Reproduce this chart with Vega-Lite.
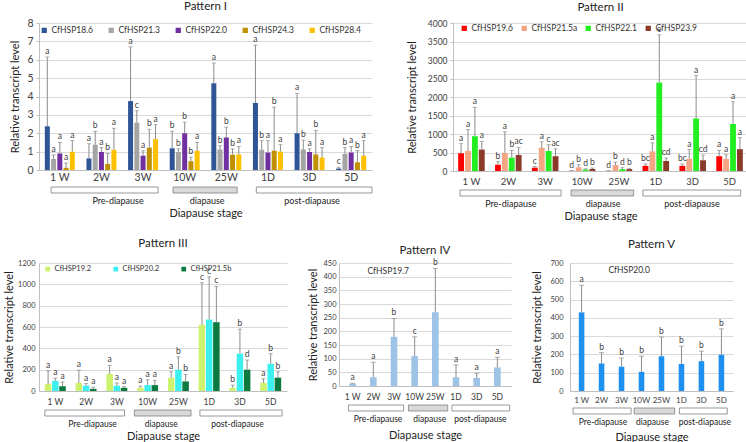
{
  "$schema": "https://vega.github.io/schema/vega-lite/v6.json",
  "padding": {"left": 3, "top": 0, "right": 0, "bottom": 0},
  "config": {
    "font": "Lato",
    "view": {"stroke": null},
    "axis": {"labelColor": "#404040", "titleColor": "#222222", "gridColor": "#d9d9d9", "domainColor": "#bfbfbf", "tickColor": "#bfbfbf", "labelFont": "Lato", "titleFont": "Lato", "titleFontWeight": "normal"},
    "axisY": {"labelOverlap": false},
    "legend": {"labelFont": "Lato", "labelColor": "#333333"},
    "title": {"font": "Lato", "fontWeight": "normal", "color": "#222222"}
  },
  "align": "none",
  "resolve": {"scale": {"color": "independent", "xOffset": "independent", "x": "independent", "y": "independent"}, "legend": {"color": "independent"}},
  "datasets": {
    "p1": [
      {"stage": "1 W", "gene": "CfHSP18.6", "value": 2.38, "upper": 6.15, "letter": "a"},
      {"stage": "1 W", "gene": "CfHSP21.3", "value": 0.6, "upper": 0.82, "letter": "a"},
      {"stage": "1 W", "gene": "CfHSP22.0", "value": 0.9, "upper": 1.5, "letter": "a"},
      {"stage": "1 W", "gene": "CfHSP24.3", "value": 0.12, "upper": 0.38, "letter": "a"},
      {"stage": "1 W", "gene": "CfHSP28.4", "value": 1.0, "upper": 1.6, "letter": "a"},
      {"stage": "2W", "gene": "CfHSP18.6", "value": 0.63, "upper": 1.43, "letter": "a"},
      {"stage": "2W", "gene": "CfHSP21.3", "value": 1.38, "upper": 2.1, "letter": "b"},
      {"stage": "2W", "gene": "CfHSP22.0", "value": 0.98, "upper": 1.22, "letter": "a"},
      {"stage": "2W", "gene": "CfHSP24.3", "value": 0.33, "upper": 0.9, "letter": "b"},
      {"stage": "2W", "gene": "CfHSP28.4", "value": 1.1, "upper": 2.27, "letter": "a"},
      {"stage": "3W", "gene": "CfHSP18.6", "value": 3.75, "upper": 6.7, "letter": "a"},
      {"stage": "3W", "gene": "CfHSP21.3", "value": 2.58, "upper": 3.23, "letter": "c"},
      {"stage": "3W", "gene": "CfHSP22.0", "value": 0.78, "upper": 1.05, "letter": "a"},
      {"stage": "3W", "gene": "CfHSP24.3", "value": 1.22, "upper": 2.22, "letter": "b"},
      {"stage": "3W", "gene": "CfHSP28.4", "value": 1.68, "upper": 2.47, "letter": "a"},
      {"stage": "10W", "gene": "CfHSP18.6", "value": 1.18, "upper": 2.1, "letter": "b"},
      {"stage": "10W", "gene": "CfHSP21.3", "value": 0.98, "upper": 1.15, "letter": "b"},
      {"stage": "10W", "gene": "CfHSP22.0", "value": 2.0, "upper": 2.6, "letter": "b"},
      {"stage": "10W", "gene": "CfHSP24.3", "value": 0.48, "upper": 0.7, "letter": "b"},
      {"stage": "10W", "gene": "CfHSP28.4", "value": 1.05, "upper": 1.5, "letter": "a"},
      {"stage": "25W", "gene": "CfHSP18.6", "value": 4.72, "upper": 5.82, "letter": "a"},
      {"stage": "25W", "gene": "CfHSP21.3", "value": 1.12, "upper": 1.32, "letter": "b"},
      {"stage": "25W", "gene": "CfHSP22.0", "value": 1.77, "upper": 2.33, "letter": "b"},
      {"stage": "25W", "gene": "CfHSP24.3", "value": 0.83, "upper": 1.15, "letter": "b"},
      {"stage": "25W", "gene": "CfHSP28.4", "value": 0.85, "upper": 1.28, "letter": "a"},
      {"stage": "1D", "gene": "CfHSP18.6", "value": 3.65, "upper": 6.8, "letter": "a"},
      {"stage": "1D", "gene": "CfHSP21.3", "value": 1.1, "upper": 1.6, "letter": "b"},
      {"stage": "1D", "gene": "CfHSP22.0", "value": 0.95, "upper": 1.6, "letter": "a"},
      {"stage": "1D", "gene": "CfHSP24.3", "value": 1.05, "upper": 3.42, "letter": "b"},
      {"stage": "1D", "gene": "CfHSP28.4", "value": 1.0, "upper": 1.38, "letter": "a"},
      {"stage": "3D", "gene": "CfHSP18.6", "value": 2.0, "upper": 4.17, "letter": "a"},
      {"stage": "3D", "gene": "CfHSP21.3", "value": 1.12, "upper": 1.62, "letter": "b"},
      {"stage": "3D", "gene": "CfHSP22.0", "value": 0.98, "upper": 1.15, "letter": "a"},
      {"stage": "3D", "gene": "CfHSP24.3", "value": 0.85, "upper": 2.15, "letter": "b"},
      {"stage": "3D", "gene": "CfHSP28.4", "value": 0.68, "upper": 1.22, "letter": "a"},
      {"stage": "5D", "gene": "CfHSP18.6", "value": 0.08, "upper": 0.15, "letter": "c"},
      {"stage": "5D", "gene": "CfHSP21.3", "value": 0.88, "upper": 1.22, "letter": "b"},
      {"stage": "5D", "gene": "CfHSP22.0", "value": 0.95, "upper": 1.28, "letter": "a"},
      {"stage": "5D", "gene": "CfHSP24.3", "value": 0.42, "upper": 1.05, "letter": "b"},
      {"stage": "5D", "gene": "CfHSP28.4", "value": 0.78, "upper": 1.6, "letter": "a"}
    ],
    "p2": [
      {"stage": "1 W", "gene": "CfHSP19.6", "value": 480, "upper": 740, "letter": "a"},
      {"stage": "1 W", "gene": "CfHSP21.5a", "value": 540, "upper": 1120, "letter": "a"},
      {"stage": "1 W", "gene": "CfHSP22.1", "value": 940, "upper": 1720, "letter": "a"},
      {"stage": "1 W", "gene": "CfHSP23.9", "value": 580, "upper": 800, "letter": "a"},
      {"stage": "2W", "gene": "CfHSP19.6", "value": 170, "upper": 250, "letter": "b"},
      {"stage": "2W", "gene": "CfHSP21.5a", "value": 490, "upper": 1060, "letter": "a"},
      {"stage": "2W", "gene": "CfHSP22.1", "value": 360, "upper": 560, "letter": "b"},
      {"stage": "2W", "gene": "CfHSP23.9", "value": 430, "upper": 640, "letter": "ac"},
      {"stage": "3W", "gene": "CfHSP19.6", "value": 90, "upper": 120, "letter": "c"},
      {"stage": "3W", "gene": "CfHSP21.5a", "value": 630, "upper": 790, "letter": "a"},
      {"stage": "3W", "gene": "CfHSP22.1", "value": 540, "upper": 710, "letter": "c"},
      {"stage": "3W", "gene": "CfHSP23.9", "value": 400, "upper": 600, "letter": "ac"},
      {"stage": "10W", "gene": "CfHSP19.6", "value": 5, "upper": 10, "letter": "d"},
      {"stage": "10W", "gene": "CfHSP21.5a", "value": 100, "upper": 170, "letter": "b"},
      {"stage": "10W", "gene": "CfHSP22.1", "value": 40, "upper": 60, "letter": "d"},
      {"stage": "10W", "gene": "CfHSP23.9", "value": 55, "upper": 80, "letter": "b"},
      {"stage": "25W", "gene": "CfHSP19.6", "value": 5, "upper": 10, "letter": "d"},
      {"stage": "25W", "gene": "CfHSP21.5a", "value": 160, "upper": 240, "letter": "b"},
      {"stage": "25W", "gene": "CfHSP22.1", "value": 50, "upper": 90, "letter": "d"},
      {"stage": "25W", "gene": "CfHSP23.9", "value": 50, "upper": 70, "letter": "b"},
      {"stage": "1D", "gene": "CfHSP19.6", "value": 140, "upper": 190, "letter": "bc"},
      {"stage": "1D", "gene": "CfHSP21.5a", "value": 530, "upper": 760, "letter": "a"},
      {"stage": "1D", "gene": "CfHSP22.1", "value": 2390, "upper": 3680, "letter": "e"},
      {"stage": "1D", "gene": "CfHSP23.9", "value": 270, "upper": 350, "letter": "cd"},
      {"stage": "3D", "gene": "CfHSP19.6", "value": 140, "upper": 190, "letter": "bc"},
      {"stage": "3D", "gene": "CfHSP21.5a", "value": 330, "upper": 580, "letter": "a"},
      {"stage": "3D", "gene": "CfHSP22.1", "value": 1420, "upper": 2580, "letter": "a"},
      {"stage": "3D", "gene": "CfHSP23.9", "value": 290, "upper": 430, "letter": "cd"},
      {"stage": "5D", "gene": "CfHSP19.6", "value": 400, "upper": 560, "letter": "a"},
      {"stage": "5D", "gene": "CfHSP21.5a", "value": 330, "upper": 440, "letter": "a"},
      {"stage": "5D", "gene": "CfHSP22.1", "value": 1270, "upper": 1870, "letter": "a"},
      {"stage": "5D", "gene": "CfHSP23.9", "value": 590, "upper": 900, "letter": "a"}
    ],
    "p3": [
      {"stage": "1 W", "gene": "CfHSP19.2", "value": 65, "upper": 190, "letter": "a"},
      {"stage": "1 W", "gene": "CfHSP20.2", "value": 95, "upper": 120, "letter": "a"},
      {"stage": "1 W", "gene": "CfHSP21.5b", "value": 45, "upper": 85, "letter": "a"},
      {"stage": "2W", "gene": "CfHSP19.2", "value": 75, "upper": 195, "letter": "a"},
      {"stage": "2W", "gene": "CfHSP20.2", "value": 50, "upper": 70, "letter": "a"},
      {"stage": "2W", "gene": "CfHSP21.5b", "value": 20, "upper": 35, "letter": "a"},
      {"stage": "3W", "gene": "CfHSP19.2", "value": 160, "upper": 240, "letter": "a"},
      {"stage": "3W", "gene": "CfHSP20.2", "value": 50, "upper": 75, "letter": "a"},
      {"stage": "3W", "gene": "CfHSP21.5b", "value": 30, "upper": 40, "letter": "a"},
      {"stage": "10W", "gene": "CfHSP19.2", "value": 30, "upper": 45, "letter": "a"},
      {"stage": "10W", "gene": "CfHSP20.2", "value": 55, "upper": 105, "letter": "a"},
      {"stage": "10W", "gene": "CfHSP21.5b", "value": 55, "upper": 100, "letter": "a"},
      {"stage": "25W", "gene": "CfHSP19.2", "value": 125, "upper": 180, "letter": "a"},
      {"stage": "25W", "gene": "CfHSP20.2", "value": 200, "upper": 320, "letter": "b"},
      {"stage": "25W", "gene": "CfHSP21.5b", "value": 90, "upper": 155, "letter": "b"},
      {"stage": "1D", "gene": "CfHSP19.2", "value": 620, "upper": 1015, "letter": "c"},
      {"stage": "1D", "gene": "CfHSP20.2", "value": 670, "upper": 1070, "letter": "c"},
      {"stage": "1D", "gene": "CfHSP21.5b", "value": 645, "upper": 980, "letter": "c"},
      {"stage": "3D", "gene": "CfHSP19.2", "value": 30, "upper": 55, "letter": "b"},
      {"stage": "3D", "gene": "CfHSP20.2", "value": 350, "upper": 580, "letter": "b"},
      {"stage": "3D", "gene": "CfHSP21.5b", "value": 200, "upper": 290, "letter": "d"},
      {"stage": "5D", "gene": "CfHSP19.2", "value": 75, "upper": 115, "letter": "a"},
      {"stage": "5D", "gene": "CfHSP20.2", "value": 255, "upper": 350, "letter": "b"},
      {"stage": "5D", "gene": "CfHSP21.5b", "value": 125, "upper": 180, "letter": "b"}
    ],
    "p4": [
      {"stage": "1 W", "gene": "CfHSP19.7", "value": 8, "upper": 10, "letter": "a"},
      {"stage": "2W", "gene": "CfHSP19.7", "value": 32, "upper": 87, "letter": "a"},
      {"stage": "3W", "gene": "CfHSP19.7", "value": 180, "upper": 247, "letter": "b"},
      {"stage": "10W", "gene": "CfHSP19.7", "value": 110, "upper": 180, "letter": "c"},
      {"stage": "25W", "gene": "CfHSP19.7", "value": 270, "upper": 430, "letter": "b"},
      {"stage": "1D", "gene": "CfHSP19.7", "value": 32, "upper": 77, "letter": "a"},
      {"stage": "3D", "gene": "CfHSP19.7", "value": 30, "upper": 47, "letter": "a"},
      {"stage": "5D", "gene": "CfHSP19.7", "value": 68, "upper": 105, "letter": "a"}
    ],
    "p5": [
      {"stage": "1 W", "gene": "CfHSP20.0", "value": 430, "upper": 578, "letter": "a"},
      {"stage": "2W", "gene": "CfHSP20.0", "value": 150, "upper": 210, "letter": "b"},
      {"stage": "3W", "gene": "CfHSP20.0", "value": 133, "upper": 180, "letter": "b"},
      {"stage": "10W", "gene": "CfHSP20.0", "value": 105, "upper": 190, "letter": "b"},
      {"stage": "25W", "gene": "CfHSP20.0", "value": 190, "upper": 295, "letter": "b"},
      {"stage": "1D", "gene": "CfHSP20.0", "value": 148, "upper": 245, "letter": "b"},
      {"stage": "3D", "gene": "CfHSP20.0", "value": 163, "upper": 218, "letter": "b"},
      {"stage": "5D", "gene": "CfHSP20.0", "value": 198, "upper": 340, "letter": "b"}
    ]
  },
  "spacing": 16,
  "vconcat": [
    {
      "hconcat": [
        {
          "spacing": 3,
          "resolve": {"scale": {"color": "independent", "xOffset": "independent", "x": "independent", "y": "independent"}, "legend": {"color": "independent"}},
          "vconcat": [
            {
              "width": 333, "height": 147,
              "title": {"text": "Pattern I", "fontSize": 11.5, "anchor": "middle", "frame": "group", "offset": 6},
              "data": {"name": "p1"},
              "encoding": {
                "x": {"field": "stage", "type": "nominal", "sort": ["1 W", "2W", "3W", "10W", "25W", "1D", "3D", "5D"], "scale": {"domain": ["1 W", "2W", "3W", "10W", "25W", "1D", "3D", "5D"], "paddingInner": 0.28, "paddingOuter": 0.14}, "axis": {"title": null, "labelAngle": 0, "ticks": false, "labelPadding": 2, "labelFontSize": 10.5}},
                "xOffset": {"field": "gene", "type": "nominal", "scale": {"domain": ["CfHSP18.6", "CfHSP21.3", "CfHSP22.0", "CfHSP24.3", "CfHSP28.4"], "paddingInner": 0.2}},
                "y": {"field": "value", "type": "quantitative", "scale": {"domain": [0, 8], "nice": false}, "axis": {"title": "Relative transcript level", "titleFontSize": 11, "values": [0, 1, 2, 3, 4, 5, 6, 7, 8], "tickCount": 20, "labelOverlap": false, "format": "d", "labelFontSize": 10.5, "tickSize": 3, "labelPadding": 3, "titlePadding": 6}}
              },
              "layer": [
                {"mark": {"type": "bar"}, "encoding": {
                  "color": {"field": "gene", "type": "nominal", "scale": {"domain": ["CfHSP18.6", "CfHSP21.3", "CfHSP22.0", "CfHSP24.3", "CfHSP28.4"], "range": ["#2F5597", "#A5A5A5", "#7030A0", "#BF9000", "#FFC000"]}, "legend": {"orient": "none", "legendX": 1, "legendY": 3, "direction": "horizontal", "title": null, "symbolType": "square", "symbolSize": 28, "symbolStrokeWidth": 0, "labelFontSize": 8.5, "columnPadding": 13, "labelOffset": 3, "padding": 0}}
                }},
                {"mark": {"type": "rule", "color": "#8c8c8c", "strokeWidth": 1}, "encoding": {"y2": {"field": "upper"}}},
                {"mark": {"type": "tick", "color": "#8c8c8c", "size": 4, "thickness": 1}, "encoding": {"y": {"field": "upper", "type": "quantitative", "scale": {"domain": [0, 8], "nice": false}, "axis": {"title": "Relative transcript level", "titleFontSize": 11, "values": [0, 1, 2, 3, 4, 5, 6, 7, 8], "tickCount": 20, "labelOverlap": false, "format": "d", "labelFontSize": 10.5, "tickSize": 3, "labelPadding": 3, "titlePadding": 6}}}},
                {"mark": {"type": "text", "baseline": "bottom", "dy": -1, "fontSize": 8.5, "color": "#404040"}, "encoding": {"y": {"field": "upper", "type": "quantitative", "scale": {"domain": [0, 8], "nice": false}, "axis": {"title": "Relative transcript level", "titleFontSize": 11, "values": [0, 1, 2, 3, 4, 5, 6, 7, 8], "tickCount": 20, "labelOverlap": false, "format": "d", "labelFontSize": 10.5, "tickSize": 3, "labelPadding": 3, "titlePadding": 6}}, "text": {"field": "letter"}}}
              ]
            },
            {
              "width": 333, "height": 20,
              "data": {"values": [{}]},
              "layer": [
                {"mark": {"type": "rect", "fill": "#ffffff", "stroke": "#7f7f7f", "strokeWidth": 0.8}, "encoding": {
                  "x": {"datum": "1 W", "type": "nominal", "bandPosition": 0.29, "scale": {"domain": ["1 W", "2W", "3W", "10W", "25W", "1D", "3D", "5D"], "paddingInner": 0, "paddingOuter": 0}, "axis": {"title": "Diapause stage", "labels": false, "ticks": false, "domain": false, "titleFontSize": 11, "titlePadding": 0}},
                  "x2": {"datum": "3W", "bandPosition": 0.86},
                  "y": {"datum": 1, "type": "quantitative", "scale": {"domain": [0, 1]}, "axis": null}, "y2": {"datum": 0.7}}},
                {"mark": {"type": "rect", "fill": "#d9d9d9", "stroke": "#7f7f7f", "strokeWidth": 0.8}, "encoding": {
                  "x": {"datum": "10W", "type": "nominal", "bandPosition": 0.22}, "x2": {"datum": "25W", "bandPosition": 0.76},
                  "y": {"datum": 1, "type": "quantitative"}, "y2": {"datum": 0.7}}},
                {"mark": {"type": "rect", "fill": "#ffffff", "stroke": "#7f7f7f", "strokeWidth": 0.8}, "encoding": {
                  "x": {"datum": "1D", "type": "nominal", "bandPosition": 0.22}, "x2": {"datum": "5D", "bandPosition": 1.0},
                  "y": {"datum": 1, "type": "quantitative"}, "y2": {"datum": 0.7}}},
                {"mark": {"type": "text", "text": "Pre-diapause", "fontSize": 9, "baseline": "middle", "color": "#222222"}, "encoding": {"x": {"datum": "2W", "type": "nominal", "bandPosition": 0.9}, "y": {"datum": 0.3, "type": "quantitative"}}},
                {"mark": {"type": "text", "text": "diapause", "fontSize": 9, "baseline": "middle", "color": "#222222"}, "encoding": {"x": {"datum": "25W", "type": "nominal", "bandPosition": 0.04}, "y": {"datum": 0.3, "type": "quantitative"}}},
                {"mark": {"type": "text", "text": "post-diapause", "fontSize": 9, "baseline": "middle", "color": "#222222"}, "encoding": {"x": {"datum": "3D", "type": "nominal", "bandPosition": 0.56}, "y": {"datum": 0.3, "type": "quantitative"}}}
              ]
            }
          ]
        },
        {
          "spacing": 3,
          "resolve": {"scale": {"color": "independent", "xOffset": "independent", "x": "independent", "y": "independent"}, "legend": {"color": "independent"}},
          "vconcat": [
            {
              "width": 295, "height": 148,
              "title": {"text": "Pattern II", "fontSize": 11.5, "anchor": "middle", "frame": "group", "offset": 6},
              "data": {"name": "p2"},
              "encoding": {
                "x": {"field": "stage", "type": "nominal", "sort": ["1 W", "2W", "3W", "10W", "25W", "1D", "3D", "5D"], "scale": {"domain": ["1 W", "2W", "3W", "10W", "25W", "1D", "3D", "5D"], "paddingInner": 0.28, "paddingOuter": 0.14}, "axis": {"title": null, "labelAngle": 0, "ticks": false, "labelPadding": 5, "labelFontSize": 9.5}},
                "xOffset": {"field": "gene", "type": "nominal", "scale": {"domain": ["CfHSP19.6", "CfHSP21.5a", "CfHSP22.1", "CfHSP23.9"], "paddingInner": 0.15}},
                "y": {"field": "value", "type": "quantitative", "scale": {"domain": [0, 4000], "nice": false}, "axis": {"title": "Relative  transcript level", "titleFontSize": 11, "values": [0, 500, 1000, 1500, 2000, 2500, 3000, 3500, 4000], "tickCount": 20, "labelOverlap": false, "format": "d", "labelFontSize": 8.5, "tickSize": 3, "labelPadding": 3, "titlePadding": 10}}
              },
              "layer": [
                {"mark": {"type": "bar"}, "encoding": {
                  "color": {"field": "gene", "type": "nominal", "scale": {"domain": ["CfHSP19.6", "CfHSP21.5a", "CfHSP22.1", "CfHSP23.9"], "range": ["#FF0000", "#F4A582", "#22EE22", "#8B3A2A"]}, "legend": {"orient": "none", "legendX": 7, "legendY": 1, "direction": "horizontal", "title": null, "symbolType": "square", "symbolSize": 28, "symbolStrokeWidth": 0, "labelFontSize": 8.5, "columnPadding": 6, "labelOffset": 3, "padding": 0}}
                }},
                {"mark": {"type": "rule", "color": "#8c8c8c", "strokeWidth": 1}, "encoding": {"y2": {"field": "upper"}}},
                {"mark": {"type": "tick", "color": "#8c8c8c", "size": 4, "thickness": 1}, "encoding": {"y": {"field": "upper", "type": "quantitative", "scale": {"domain": [0, 4000], "nice": false}, "axis": {"title": "Relative  transcript level", "titleFontSize": 11, "values": [0, 500, 1000, 1500, 2000, 2500, 3000, 3500, 4000], "tickCount": 20, "labelOverlap": false, "format": "d", "labelFontSize": 8.5, "tickSize": 3, "labelPadding": 3, "titlePadding": 10}}}},
                {"mark": {"type": "text", "baseline": "bottom", "dy": -1, "fontSize": 8.5, "color": "#404040"}, "encoding": {"y": {"field": "upper", "type": "quantitative", "scale": {"domain": [0, 4000], "nice": false}, "axis": {"title": "Relative  transcript level", "titleFontSize": 11, "values": [0, 500, 1000, 1500, 2000, 2500, 3000, 3500, 4000], "tickCount": 20, "labelOverlap": false, "format": "d", "labelFontSize": 8.5, "tickSize": 3, "labelPadding": 3, "titlePadding": 10}}, "text": {"field": "letter"}}}
              ]
            },
            {
              "width": 295, "height": 20,
              "data": {"values": [{}]},
              "layer": [
                {"mark": {"type": "rect", "fill": "#ffffff", "stroke": "#7f7f7f", "strokeWidth": 0.8}, "encoding": {
                  "x": {"datum": "1 W", "type": "nominal", "bandPosition": 0.19, "scale": {"domain": ["1 W", "2W", "3W", "10W", "25W", "1D", "3D", "5D"], "paddingInner": 0, "paddingOuter": 0}, "axis": {"title": "Diapause stage", "labels": false, "ticks": false, "domain": false, "titleFontSize": 11, "titlePadding": 0}},
                  "x2": {"datum": "3W", "bandPosition": 0.93},
                  "y": {"datum": 1, "type": "quantitative", "scale": {"domain": [0, 1]}, "axis": null}, "y2": {"datum": 0.7}}},
                {"mark": {"type": "rect", "fill": "#d9d9d9", "stroke": "#7f7f7f", "strokeWidth": 0.8}, "encoding": {
                  "x": {"datum": "10W", "type": "nominal", "bandPosition": 0.2}, "x2": {"datum": "25W", "bandPosition": 0.9},
                  "y": {"datum": 1, "type": "quantitative"}, "y2": {"datum": 0.7}}},
                {"mark": {"type": "rect", "fill": "#ffffff", "stroke": "#7f7f7f", "strokeWidth": 0.8}, "encoding": {
                  "x": {"datum": "1D", "type": "nominal", "bandPosition": 0.15}, "x2": {"datum": "5D", "bandPosition": 0.8},
                  "y": {"datum": 1, "type": "quantitative"}, "y2": {"datum": 0.7}}},
                {"mark": {"type": "text", "text": "Pre-diapause", "fontSize": 9, "baseline": "middle", "color": "#222222"}, "encoding": {"x": {"datum": "2W", "type": "nominal", "bandPosition": 0.57}, "y": {"datum": 0.3, "type": "quantitative"}}},
                {"mark": {"type": "text", "text": "diapause", "fontSize": 9, "baseline": "middle", "color": "#222222"}, "encoding": {"x": {"datum": "25W", "type": "nominal", "bandPosition": 0.07}, "y": {"datum": 0.3, "type": "quantitative"}}},
                {"mark": {"type": "text", "text": "post-diapause", "fontSize": 9, "baseline": "middle", "color": "#222222"}, "encoding": {"x": {"datum": "3D", "type": "nominal", "bandPosition": 0.48}, "y": {"datum": 0.3, "type": "quantitative"}}}
              ]
            }
          ]
        }
      ],
      "spacing": 33,
      "resolve": {"scale": {"color": "independent", "xOffset": "independent", "x": "independent", "y": "independent"}, "legend": {"color": "independent"}}
    },
    {
      "hconcat": [
        {
          "spacing": 3,
          "resolve": {"scale": {"color": "independent", "xOffset": "independent", "x": "independent", "y": "independent"}, "legend": {"color": "independent"}},
          "vconcat": [
            {
              "width": 248, "height": 128,
              "title": {"text": "Pattern III", "fontSize": 11.5, "anchor": "middle", "frame": "group", "offset": 10},
              "data": {"name": "p3"},
              "encoding": {
                "x": {"field": "stage", "type": "nominal", "sort": ["1 W", "2W", "3W", "10W", "25W", "1D", "3D", "5D"], "scale": {"domain": ["1 W", "2W", "3W", "10W", "25W", "1D", "3D", "5D"], "paddingInner": 0.32, "paddingOuter": 0.19}, "axis": {"title": null, "labelAngle": 0, "ticks": false, "labelPadding": 6, "labelFontSize": 8.5}},
                "xOffset": {"field": "gene", "type": "nominal", "scale": {"domain": ["CfHSP19.2", "CfHSP20.2", "CfHSP21.5b"], "paddingInner": 0.1}},
                "y": {"field": "value", "type": "quantitative", "scale": {"domain": [0, 1200], "nice": false}, "axis": {"title": "Relative transcript level", "titleFontSize": 11, "values": [0, 200, 400, 600, 800, 1000, 1200], "tickCount": 20, "labelOverlap": false, "format": "d", "labelFontSize": 7.5, "tickSize": 0, "labelPadding": 4, "titlePadding": 3}}
              },
              "layer": [
                {"mark": {"type": "bar"}, "encoding": {
                  "color": {"field": "gene", "type": "nominal", "scale": {"domain": ["CfHSP19.2", "CfHSP20.2", "CfHSP21.5b"], "range": ["#CCF26E", "#3CF0F0", "#0B7A3E"]}, "legend": {"orient": "none", "legendX": 5, "legendY": 2, "direction": "horizontal", "title": null, "symbolType": "square", "symbolSize": 22, "symbolStrokeWidth": 0, "labelFontSize": 7.5, "columnPadding": 20, "labelOffset": 3, "padding": 0}}
                }},
                {"mark": {"type": "rule", "color": "#8c8c8c", "strokeWidth": 1}, "encoding": {"y2": {"field": "upper"}}},
                {"mark": {"type": "tick", "color": "#8c8c8c", "size": 4, "thickness": 1}, "encoding": {"y": {"field": "upper", "type": "quantitative", "scale": {"domain": [0, 1200], "nice": false}, "axis": {"title": "Relative transcript level", "titleFontSize": 11, "values": [0, 200, 400, 600, 800, 1000, 1200], "tickCount": 20, "labelOverlap": false, "format": "d", "labelFontSize": 7.5, "tickSize": 0, "labelPadding": 4, "titlePadding": 3}}}},
                {"mark": {"type": "text", "baseline": "bottom", "dy": -1, "fontSize": 8.5, "color": "#404040"}, "encoding": {"y": {"field": "upper", "type": "quantitative", "scale": {"domain": [0, 1200], "nice": false}, "axis": {"title": "Relative transcript level", "titleFontSize": 11, "values": [0, 200, 400, 600, 800, 1000, 1200], "tickCount": 20, "labelOverlap": false, "format": "d", "labelFontSize": 7.5, "tickSize": 0, "labelPadding": 4, "titlePadding": 3}}, "text": {"field": "letter"}}}
              ]
            },
            {
              "width": 248, "height": 20,
              "data": {"values": [{}]},
              "layer": [
                {"mark": {"type": "rect", "fill": "#ffffff", "stroke": "#7f7f7f", "strokeWidth": 0.8}, "encoding": {
                  "x": {"datum": "1 W", "type": "nominal", "bandPosition": 0.16, "scale": {"domain": ["1 W", "2W", "3W", "10W", "25W", "1D", "3D", "5D"], "paddingInner": 0, "paddingOuter": 0.03}, "axis": {"title": "Diapause stage", "labels": false, "ticks": false, "domain": false, "titleFontSize": 11, "titlePadding": 0}},
                  "x2": {"datum": "3W", "bandPosition": 0.75},
                  "y": {"datum": 1, "type": "quantitative", "scale": {"domain": [0, 1]}, "axis": null}, "y2": {"datum": 0.7}}},
                {"mark": {"type": "rect", "fill": "#d9d9d9", "stroke": "#7f7f7f", "strokeWidth": 0.8}, "encoding": {
                  "x": {"datum": "10W", "type": "nominal", "bandPosition": 0.07}, "x2": {"datum": "25W", "bandPosition": 0.91},
                  "y": {"datum": 1, "type": "quantitative"}, "y2": {"datum": 0.7}}},
                {"mark": {"type": "rect", "fill": "#ffffff", "stroke": "#7f7f7f", "strokeWidth": 0.8}, "encoding": {
                  "x": {"datum": "1D", "type": "nominal", "bandPosition": 0.2}, "x2": {"datum": "5D", "bandPosition": 0.87},
                  "y": {"datum": 1, "type": "quantitative"}, "y2": {"datum": 0.7}}},
                {"mark": {"type": "text", "text": "Pre-diapause", "fontSize": 8.5, "baseline": "middle", "color": "#222222"}, "encoding": {"x": {"datum": "2W", "type": "nominal", "bandPosition": 0.71}, "y": {"datum": 0.3, "type": "quantitative"}}},
                {"mark": {"type": "text", "text": "diapause", "fontSize": 8.5, "baseline": "middle", "color": "#222222"}, "encoding": {"x": {"datum": "10W", "type": "nominal", "bandPosition": 0.94}, "y": {"datum": 0.3, "type": "quantitative"}}},
                {"mark": {"type": "text", "text": "post-diapause", "fontSize": 8.5, "baseline": "middle", "color": "#222222"}, "encoding": {"x": {"datum": "3D", "type": "nominal", "bandPosition": 0.42}, "y": {"datum": 0.3, "type": "quantitative"}}}
              ]
            }
          ]
        },
        {
          "spacing": 3,
          "resolve": {"scale": {"color": "independent", "xOffset": "independent", "x": "independent", "y": "independent"}, "legend": {"color": "independent"}},
          "vconcat": [
            {
              "width": 172, "height": 123,
              "title": {"text": "Pattern IV", "fontSize": 11.5, "anchor": "middle", "frame": "group", "offset": 2},
              "data": {"name": "p4"},
              "encoding": {
                "x": {"field": "stage", "type": "nominal", "sort": ["1 W", "2W", "3W", "10W", "25W", "1D", "3D", "5D"], "scale": {"domain": ["1 W", "2W", "3W", "10W", "25W", "1D", "3D", "5D"], "paddingInner": 0.68, "paddingOuter": 0.5}, "axis": {"title": null, "labelAngle": 0, "ticks": false, "labelPadding": 6, "labelFontSize": 8.5}},
                "y": {"field": "value", "type": "quantitative", "scale": {"domain": [0, 450], "nice": false}, "axis": {"title": "Relative transcript level", "titleFontSize": 11, "values": [0, 50, 100, 150, 200, 250, 300, 350, 400, 450], "tickCount": 20, "labelOverlap": false, "format": "d", "labelFontSize": 7.5, "tickSize": 0, "labelPadding": 3, "titlePadding": 4}}
              },
              "layer": [
                {"mark": {"type": "bar"}, "encoding": {
                  "color": {"field": "gene", "type": "nominal", "scale": {"domain": ["CfHSP19.7"], "range": ["#9DC3E6"]}, "legend": {"orient": "none", "legendX": 20, "legendY": 4, "title": null, "symbolSize": 0, "symbolOpacity": 0, "labelFontSize": 8.5, "labelOffset": 0, "padding": 0}}
                }},
                {"mark": {"type": "rule", "color": "#8c8c8c", "strokeWidth": 1}, "encoding": {"y2": {"field": "upper"}}},
                {"mark": {"type": "tick", "color": "#8c8c8c", "size": 5, "thickness": 1}, "encoding": {"y": {"field": "upper", "type": "quantitative", "scale": {"domain": [0, 450], "nice": false}, "axis": {"title": "Relative transcript level", "titleFontSize": 11, "values": [0, 50, 100, 150, 200, 250, 300, 350, 400, 450], "tickCount": 20, "labelOverlap": false, "format": "d", "labelFontSize": 7.5, "tickSize": 0, "labelPadding": 3, "titlePadding": 4}}}},
                {"mark": {"type": "text", "baseline": "bottom", "dy": -1, "fontSize": 8.5, "color": "#404040"}, "encoding": {"y": {"field": "upper", "type": "quantitative", "scale": {"domain": [0, 450], "nice": false}, "axis": {"title": "Relative transcript level", "titleFontSize": 11, "values": [0, 50, 100, 150, 200, 250, 300, 350, 400, 450], "tickCount": 20, "labelOverlap": false, "format": "d", "labelFontSize": 7.5, "tickSize": 0, "labelPadding": 3, "titlePadding": 4}}, "text": {"field": "letter"}}}
              ]
            },
            {
              "width": 172, "height": 20,
              "data": {"values": [{}]},
              "layer": [
                {"mark": {"type": "rect", "fill": "#ffffff", "stroke": "#7f7f7f", "strokeWidth": 0.8}, "encoding": {
                  "x": {"datum": "1 W", "type": "nominal", "bandPosition": 0.3, "scale": {"domain": ["1 W", "2W", "3W", "10W", "25W", "1D", "3D", "5D"], "paddingInner": 0, "paddingOuter": 0.16}, "axis": {"title": "Diapause stage", "labels": false, "ticks": false, "domain": false, "titleFontSize": 11, "titlePadding": 4}},
                  "x2": {"datum": "3W", "bandPosition": 0.97},
                  "y": {"datum": 1, "type": "quantitative", "scale": {"domain": [0, 1]}, "axis": null}, "y2": {"datum": 0.7}}},
                {"mark": {"type": "rect", "fill": "#d9d9d9", "stroke": "#7f7f7f", "strokeWidth": 0.8}, "encoding": {
                  "x": {"datum": "10W", "type": "nominal", "bandPosition": 0.2}, "x2": {"datum": "25W", "bandPosition": 1.1},
                  "y": {"datum": 1, "type": "quantitative"}, "y2": {"datum": 0.7}}},
                {"mark": {"type": "rect", "fill": "#ffffff", "stroke": "#7f7f7f", "strokeWidth": 0.8}, "encoding": {
                  "x": {"datum": "1D", "type": "nominal", "bandPosition": 0.3}, "x2": {"datum": "5D", "bandPosition": 1.1},
                  "y": {"datum": 1, "type": "quantitative"}, "y2": {"datum": 0.7}}},
                {"mark": {"type": "text", "text": "Pre-diapause", "fontSize": 8.5, "baseline": "middle", "color": "#222222"}, "encoding": {"x": {"datum": "2W", "type": "nominal", "bandPosition": 0.73}, "y": {"datum": 0.3, "type": "quantitative"}}},
                {"mark": {"type": "text", "text": "diapause", "fontSize": 8.5, "baseline": "middle", "color": "#222222"}, "encoding": {"x": {"datum": "25W", "type": "nominal", "bandPosition": 0.23}, "y": {"datum": 0.3, "type": "quantitative"}}},
                {"mark": {"type": "text", "text": "post-diapause", "fontSize": 8.5, "baseline": "middle", "color": "#222222"}, "encoding": {"x": {"datum": "3D", "type": "nominal", "bandPosition": 0.68}, "y": {"datum": 0.3, "type": "quantitative"}}}
              ]
            }
          ]
        },
        {
          "spacing": 3,
          "resolve": {"scale": {"color": "independent", "xOffset": "independent", "x": "independent", "y": "independent"}, "legend": {"color": "independent"}},
          "vconcat": [
            {
              "width": 163, "height": 128,
              "title": {"text": "Pattern V", "fontSize": 11.5, "anchor": "middle", "frame": "group", "offset": 9},
              "data": {"name": "p5"},
              "encoding": {
                "x": {"field": "stage", "type": "nominal", "sort": ["1 W", "2W", "3W", "10W", "25W", "1D", "3D", "5D"], "scale": {"domain": ["1 W", "2W", "3W", "10W", "25W", "1D", "3D", "5D"], "paddingInner": 0.72, "paddingOuter": 0.44}, "axis": {"title": null, "labelAngle": 0, "ticks": false, "labelPadding": 5, "labelFontSize": 8}},
                "y": {"field": "value", "type": "quantitative", "scale": {"domain": [0, 700], "nice": false}, "axis": {"title": "Relative transcript level", "titleFontSize": 11, "values": [0, 100, 200, 300, 400, 500, 600, 700], "tickCount": 20, "labelOverlap": false, "format": "d", "labelFontSize": 7.5, "tickSize": 0, "labelPadding": 7, "titlePadding": 7}}
              },
              "layer": [
                {"mark": {"type": "bar"}, "encoding": {
                  "color": {"field": "gene", "type": "nominal", "scale": {"domain": ["CfHSP20.0"], "range": ["#1E90F0"]}, "legend": {"orient": "none", "legendX": 30, "legendY": 3, "title": null, "symbolSize": 0, "symbolOpacity": 0, "labelFontSize": 8.5, "labelOffset": 0, "padding": 0}}
                }},
                {"mark": {"type": "rule", "color": "#8c8c8c", "strokeWidth": 1}, "encoding": {"y2": {"field": "upper"}}},
                {"mark": {"type": "tick", "color": "#8c8c8c", "size": 5, "thickness": 1}, "encoding": {"y": {"field": "upper", "type": "quantitative", "scale": {"domain": [0, 700], "nice": false}, "axis": {"title": "Relative transcript level", "titleFontSize": 11, "values": [0, 100, 200, 300, 400, 500, 600, 700], "tickCount": 20, "labelOverlap": false, "format": "d", "labelFontSize": 7.5, "tickSize": 0, "labelPadding": 7, "titlePadding": 7}}}},
                {"mark": {"type": "text", "baseline": "bottom", "dy": -1, "fontSize": 8.5, "color": "#404040"}, "encoding": {"y": {"field": "upper", "type": "quantitative", "scale": {"domain": [0, 700], "nice": false}, "axis": {"title": "Relative transcript level", "titleFontSize": 11, "values": [0, 100, 200, 300, 400, 500, 600, 700], "tickCount": 20, "labelOverlap": false, "format": "d", "labelFontSize": 7.5, "tickSize": 0, "labelPadding": 7, "titlePadding": 7}}, "text": {"field": "letter"}}}
              ]
            },
            {
              "width": 163, "height": 20,
              "data": {"values": [{}]},
              "layer": [
                {"mark": {"type": "rect", "fill": "#ffffff", "stroke": "#7f7f7f", "strokeWidth": 0.8}, "encoding": {
                  "x": {"datum": "1 W", "type": "nominal", "bandPosition": 0.07, "scale": {"domain": ["1 W", "2W", "3W", "10W", "25W", "1D", "3D", "5D"], "paddingInner": 0, "paddingOuter": 0.08}, "axis": {"title": "Diapause stage", "labels": false, "ticks": false, "domain": false, "titleFontSize": 11, "titlePadding": 3}},
                  "x2": {"datum": "3W", "bandPosition": 0.98},
                  "y": {"datum": 1, "type": "quantitative", "scale": {"domain": [0, 1]}, "axis": null}, "y2": {"datum": 0.7}}},
                {"mark": {"type": "rect", "fill": "#d9d9d9", "stroke": "#7f7f7f", "strokeWidth": 0.8}, "encoding": {
                  "x": {"datum": "10W", "type": "nominal", "bandPosition": 0.13}, "x2": {"datum": "25W", "bandPosition": 1.16},
                  "y": {"datum": 1, "type": "quantitative"}, "y2": {"datum": 0.7}}},
                {"mark": {"type": "rect", "fill": "#ffffff", "stroke": "#7f7f7f", "strokeWidth": 0.8}, "encoding": {
                  "x": {"datum": "1D", "type": "nominal", "bandPosition": 0.4}, "x2": {"datum": "5D", "bandPosition": 0.79},
                  "y": {"datum": 1, "type": "quantitative"}, "y2": {"datum": 0.7}}},
                {"mark": {"type": "text", "text": "Pre-diapause", "fontSize": 8.5, "baseline": "middle", "color": "#222222"}, "encoding": {"x": {"datum": "2W", "type": "nominal", "bandPosition": 0.57}, "y": {"datum": 0.3, "type": "quantitative"}}},
                {"mark": {"type": "text", "text": "diapause", "fontSize": 8.5, "baseline": "middle", "color": "#222222"}, "encoding": {"x": {"datum": "25W", "type": "nominal", "bandPosition": 0.05}, "y": {"datum": 0.3, "type": "quantitative"}}},
                {"mark": {"type": "text", "text": "post-diapause", "fontSize": 8.5, "baseline": "middle", "color": "#222222"}, "encoding": {"x": {"datum": "3D", "type": "nominal", "bandPosition": 0.67}, "y": {"datum": 0.3, "type": "quantitative"}}}
              ]
            }
          ]
        }
      ],
      "spacing": 20,
      "resolve": {"scale": {"color": "independent", "xOffset": "independent", "x": "independent", "y": "independent"}, "legend": {"color": "independent"}}
    }
  ]
}
